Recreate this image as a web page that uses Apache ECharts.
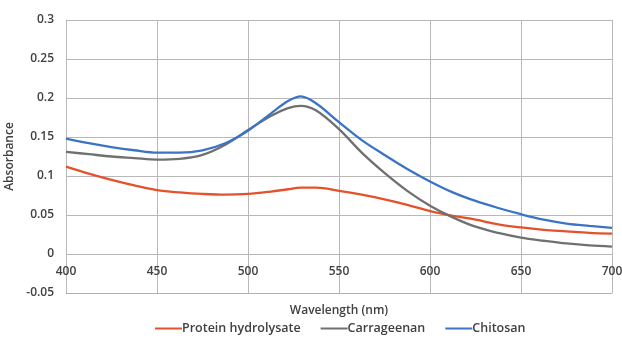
<!DOCTYPE html>
<html>
<head>
<meta charset="utf-8">
<script src="https://cdn.jsdelivr.net/npm/echarts@6/dist/echarts.min.js"></script>
<style>html,body{margin:0;padding:0;background:#fff}#c{width:622px;height:340px}</style>
</head>
<body>
<div id="c"></div>
<script>
const wavelengths = [400, 412.5, 425, 437.5, 450, 462.5, 475, 487.5, 500, 512.5, 522, 529, 537.5, 550, 562.5, 575, 587.5, 600, 612.5, 625, 637.5, 650, 662.5, 675, 687.5, 700];
const proteinHydrolysate = [0.112, 0.103, 0.095, 0.088, 0.082, 0.079, 0.077, 0.076, 0.077, 0.080, 0.083, 0.085, 0.085, 0.081, 0.076, 0.070, 0.063, 0.055, 0.049, 0.044, 0.038, 0.034, 0.031, 0.029, 0.027, 0.026];
const carrageenan = [0.131, 0.128, 0.125, 0.123, 0.121, 0.122, 0.127, 0.140, 0.159, 0.177, 0.187, 0.190, 0.184, 0.160, 0.130, 0.104, 0.081, 0.062, 0.047, 0.035, 0.027, 0.021, 0.017, 0.0135, 0.011, 0.0095];
const chitosan = [0.148, 0.142, 0.137, 0.133, 0.130, 0.130, 0.133, 0.142, 0.158, 0.180, 0.196, 0.202, 0.193, 0.169, 0.146, 0.127, 0.109, 0.093, 0.079, 0.068, 0.059, 0.051, 0.044, 0.039, 0.036, 0.0335];
const seriesNames = ['Protein hydrolysate', 'Carrageenan', 'Chitosan'];
const colors = ['#e4522b', '#707070', '#3b74c5'];

const pair = arr => wavelengths.map((w, i) => [w, arr[i]]);
const font = '"Open Sans", sans-serif';
const txt = {fontFamily: font, fontSize: 12, fontWeight: 600, color: '#404040'};
const chart = echarts.init(document.getElementById('c'));
chart.setOption({
  animation: false,
  grid: {left: 66, right: 10, top: 20, bottom: 47, outerBoundsMode: 'none', containLabel: false},
  legend: {
    left: 150, bottom: 0, itemWidth: 27, itemHeight: 2, itemGap: 20, icon: 'rect',
    textStyle: Object.assign({}, txt, {fontSize: 12.5, padding: [0, 0, 0, -5]}),
    data: seriesNames
  },
  xAxis: {
    type: 'value', min: 400, max: 700, interval: 50,
    name: 'Wavelength (nm)', nameLocation: 'middle', nameGap: 12,
    nameTextStyle: txt,
    axisLine: {onZero: false, lineStyle: {color: '#b0b0b0'}},
    axisTick: {show: false},
    axisLabel: Object.assign({}, txt, {margin: -27}),
    splitLine: {show: true, lineStyle: {color: '#b8b8b8', width: 1}}
  },
  yAxis: {
    type: 'value', min: -0.05, max: 0.3, interval: 0.05,
    name: 'Absorbance', nameLocation: 'middle', nameGap: 42,
    nameTextStyle: txt,
    axisLine: {show: true, onZero: false, lineStyle: {color: '#b8b8b8'}},
    axisTick: {show: false},
    axisLabel: Object.assign({}, txt, {margin: 12,
      formatter: v => String(Math.round(v * 100) / 100)}),
    splitLine: {show: true, lineStyle: {color: '#b8b8b8', width: 1}}
  },
  series: [proteinHydrolysate, carrageenan, chitosan].map((arr, i) => ({
    name: seriesNames[i], type: 'line', data: pair(arr), smooth: 0.35,
    showSymbol: false, symbol: 'none', color: colors[i],
    lineStyle: {width: 2.3, color: colors[i]}
  }))
});
</script>
</body>
</html>
